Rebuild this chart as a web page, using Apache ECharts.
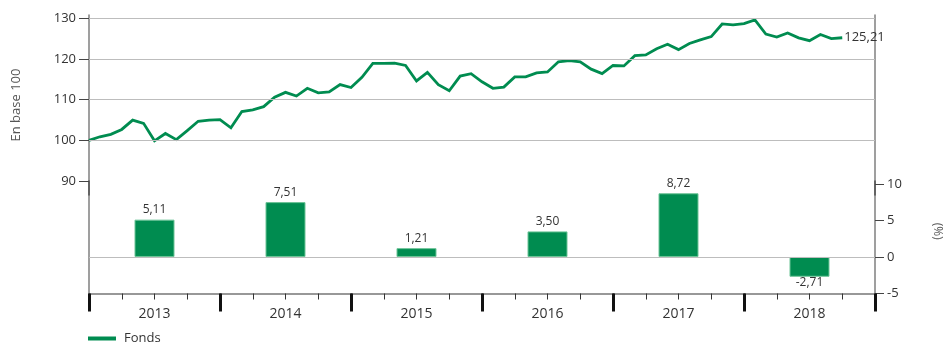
<!DOCTYPE html>
<html>
<head>
<meta charset="utf-8">
<script src="https://cdn.jsdelivr.net/npm/echarts@6/dist/echarts.min.js"></script>
<style>
  html, body { margin: 0; padding: 0; background: #fff; }
  #chart { width: 945px; height: 342px; }
</style>
</head>
<body>
<div id="chart"></div>
<script>
// Calendar years and yearly performance of the fund (%), 2018 year-to-date
const years = ['2013', '2014', '2015', '2016', '2017', '2018'];
const annualReturns = [5.11, 7.51, 1.21, 3.50, 8.72, -2.71];

// Month-end value of the fund, base 100 at end of 2012
const indexValues = [
  100.0, 100.9, 101.5, 102.7, 105.0, 104.2, 99.9, 101.7, 100.2, 102.4, 104.7, 105.0, 105.11,
  103.1, 107.1, 107.5, 108.3, 110.6, 111.8, 110.9, 112.8, 111.7, 111.9, 113.7, 113.0,
  115.5, 118.9, 118.9, 119.0, 118.4, 114.6, 116.7, 113.7, 112.2, 115.8, 116.4, 114.4,
  112.8, 113.1, 115.6, 115.6, 116.6, 116.8, 119.3, 119.6, 119.3, 117.5, 116.4, 118.4,
  118.3, 120.8, 121.0, 122.5, 123.6, 122.3, 123.8, 124.7, 125.5, 128.6, 128.4, 128.7,
  129.6, 126.1, 125.4, 126.4, 125.2, 124.5, 126.0, 125.0, 125.21
];

// Axis ticks
const indexTicks = [90, 100, 110, 120, 130];
const indexGridLines = [100, 110, 120, 130];
const returnTicks = [-5, 0, 5, 10];

const FONT = 'Open Sans';
const GREEN = '#008c50';
const TEXT = '#333';
const FRAME = 'rgba(0,0,0,0.5)';
const MONTHS = years.length * 12;
const fmt = v => v.toFixed(2).replace('.', ',');

const chart = echarts.init(document.getElementById('chart'));

const frameAxis = (grid, position, min, max) => ({
  gridIndex: grid, type: 'value', position, min, max,
  axisLine: { show: true, onZero: false, lineStyle: { color: FRAME, width: 1.5 } },
  axisTick: { show: false }, axisLabel: { show: false }, splitLine: { show: false }
});

chart.setOption({
  animation: false,
  textStyle: { fontFamily: FONT },
  color: [GREEN],
  grid: [
    { left: 89, right: 70, top: 15, height: 180, outerBoundsMode: 'none', containLabel: false },
    { left: 89, right: 70, top: 181, bottom: 48.5, outerBoundsMode: 'none', containLabel: false }
  ],
  legend: {
    data: [{ name: 'Fonds', icon: 'rect' }],
    left: 83, top: 327,
    itemWidth: 28, itemHeight: 4, itemGap: 10,
    textStyle: { color: TEXT, fontSize: 13, fontFamily: FONT, padding: [0, 0, 0, 3] }
  },
  xAxis: [
    { gridIndex: 0, type: 'value', min: 0, max: MONTHS, show: false },
    {
      // quarter ticks and year labels
      gridIndex: 1, type: 'value', position: 'bottom', min: 0, max: MONTHS, interval: 3,
      axisLine: { onZero: false, lineStyle: { color: '#777', width: 1.5 } },
      axisTick: { inside: false, length: 6, lineStyle: { color: '#333', width: 1 } },
      axisLabel: {
        formatter: v => (v % 12 === 6 ? years[(v - 6) / 12] : ''),
        color: TEXT, fontSize: 14, margin: 14, fontFamily: FONT
      },
      splitLine: { show: false }
    },
    {
      // year boundaries
      gridIndex: 1, type: 'value', position: 'bottom', offset: 0, min: 0, max: MONTHS, interval: 12,
      axisLine: { show: false, onZero: false },
      axisTick: { inside: false, length: 18, lineStyle: { color: '#111', width: 3 } },
      axisLabel: { show: false }, splitLine: { show: false }
    }
  ],
  yAxis: [
    {
      gridIndex: 0, type: 'value', position: 'left', min: 86.6, max: 130.8,
      name: 'En base 100', nameLocation: 'middle', nameGap: 66, nameRotate: 90,
      nameTextStyle: { color: '#555', fontSize: 13, fontFamily: FONT },
      axisLine: { show: true, onZero: false, lineStyle: { color: FRAME, width: 1.5 } },
      axisTick: { show: true, inside: false, customValues: indexTicks, length: 10, lineStyle: { color: '#444' } },
      axisLabel: { customValues: indexTicks, color: TEXT, fontSize: 13, margin: 13, fontFamily: FONT },
      splitLine: { show: false }
    },
    frameAxis(0, 'right', 86.6, 130.8),
    frameAxis(1, 'left', -5, 10.4),
    {
      gridIndex: 1, type: 'value', position: 'right', min: -5, max: 10.4,
      name: '(%)', nameLocation: 'middle', nameGap: 56, nameRotate: -90,
      nameTextStyle: { color: '#555', fontSize: 12, fontFamily: FONT, padding: [0, 12, 0, 0] },
      axisLine: { show: true, onZero: false, lineStyle: { color: FRAME, width: 1.5 } },
      axisTick: { show: true, inside: false, customValues: returnTicks, length: 9, lineStyle: { color: '#444' } },
      axisLabel: { customValues: returnTicks, color: TEXT, fontSize: 13, margin: 12, fontFamily: FONT },
      splitLine: { show: false }
    }
  ],
  series: [
    {
      // horizontal reference lines of the index panel
      type: 'line', xAxisIndex: 0, yAxisIndex: 0, data: [], z: 1, silent: true,
      markLine: {
        silent: true, symbol: 'none', animation: false,
        label: { show: false },
        lineStyle: { color: '#bdbdbd', type: 'solid', width: 1 },
        data: indexGridLines.map(v => ({ yAxis: v }))
      }
    },
    {
      // zero line of the performance panel
      type: 'line', xAxisIndex: 1, yAxisIndex: 3, data: [], z: 1, silent: true,
      markLine: {
        silent: true, symbol: 'none', animation: false,
        label: { show: false },
        lineStyle: { color: '#bdbdbd', type: 'solid', width: 1 },
        data: [{ yAxis: 0 }]
      }
    },
    {
      name: 'Fonds', type: 'line', xAxisIndex: 0, yAxisIndex: 0, z: 3,
      data: indexValues.map((v, i) => [i, v]),
      showSymbol: false, symbol: 'none',
      lineStyle: { color: GREEN, width: 2.8, join: 'miter' },
      itemStyle: { color: GREEN },
      endLabel: {
        show: true, distance: 2, color: TEXT, fontSize: 13, fontFamily: FONT,
        formatter: p => fmt(p.value[1])
      }
    },
    {
      name: 'Fonds', type: 'bar', xAxisIndex: 1, yAxisIndex: 3, z: 3,
      barWidth: 40,
      data: annualReturns.map((v, k) => ({
        value: [12 * k + 6, v],
        label: { position: v < 0 ? 'bottom' : 'top', distance: v < 0 ? 0 : 4 }
      })),
      itemStyle: { color: GREEN, borderColor: '#6cc497', borderWidth: 1 },
      label: {
        show: true, color: TEXT, fontSize: 12, fontFamily: FONT,
        formatter: p => fmt(p.value[1])
      }
    }
  ]
});
</script>
</body>
</html>
